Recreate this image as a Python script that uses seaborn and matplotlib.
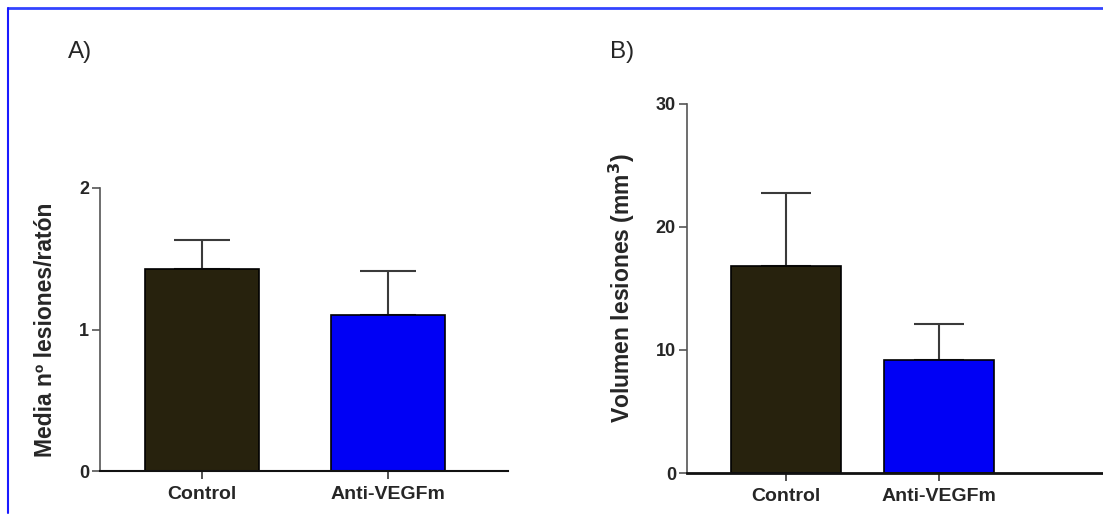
import matplotlib
matplotlib.use("Agg")
import matplotlib.pyplot as plt
import seaborn as sns
import pandas as pd
import numpy as np
from matplotlib.lines import Line2D

sns.set_theme(style="white")
plt.rcParams['font.family'] = ['Liberation Sans', 'DejaVu Sans']

categories = ["Control", "Anti-VEGFm"]
lesiones_mean = [1.43, 1.10]
lesiones_sem = [0.20, 0.31]
volumen_mean = [16.8, 9.2]
volumen_sem = [6.0, 2.9]
bar_colors = ["#27220d", "#0000f5"]
yticks_a = [0, 1, 2]
yticks_b = [0, 10, 20, 30]

fig = plt.figure(figsize=(11.03, 5.16), dpi=100)
W, H = 1103, 516

def px_axes(x0, x1, ytop, ybot):
    return fig.add_axes([x0 / W, (H - ybot) / H, (x1 - x0) / W, (ybot - ytop) / H])

axA = px_axes(100, 508, 188, 471)
axB = px_axes(687, 1103, 104, 473)

def draw(ax, means, sems, width, xlim, ylim, yticks, ylabel, xaxis_lw, cap, label_x):
    df = pd.DataFrame({"cat": categories, "val": means})
    sns.barplot(data=df, x="cat", y="val", hue="cat", palette=bar_colors,
                width=width, edgecolor="black", linewidth=1.2, legend=False,
                saturation=1, errorbar=None, ax=ax, zorder=2)
    x = np.arange(len(categories))
    ax.errorbar(x, means, yerr=[np.zeros(len(sems)), sems], fmt="none",
                ecolor="#3a3a3a", elinewidth=1.5, capsize=cap, capthick=1.5, zorder=1)
    ax.set_xlim(*xlim)
    ax.set_ylim(*ylim)
    ax.set_yticks(yticks)
    ax.set_yticklabels([str(t) for t in yticks], fontweight="bold", fontsize=13)
    ax.set_xticks(x)
    ax.set_xticklabels(categories, fontweight="bold", fontsize=14)
    ax.set_xlabel("")
    ax.set_ylabel(ylabel, fontweight="bold", fontsize=16.5)
    ax.yaxis.set_label_coords(label_x, 0.5)
    for s in ["top", "right"]:
        ax.spines[s].set_visible(False)
    ax.spines["left"].set_color("#555555")
    ax.spines["left"].set_linewidth(1.2)
    ax.spines["bottom"].set_color("#111111")
    ax.spines["bottom"].set_linewidth(xaxis_lw)
    ax.tick_params(axis="y", direction="out", length=6, width=1.2, color="#555555", pad=2, left=True)
    ax.tick_params(axis="x", direction="out", length=6, width=1.2, color="#333333", pad=5, bottom=True)
    ax.set_facecolor("none")

draw(axA, lesiones_mean, lesiones_sem, 0.613, (-0.548, 1.645), (0, 2), yticks_a,
     "Media nº lesiones/ratón", 1.5, 20, -0.105)
draw(axB, volumen_mean, volumen_sem, 0.72, (-0.647, 2.07), (0, 30), yticks_b,
     "Volumen lesiones (mm$^{\\mathbf{3}}$)", 2.0, 18, -0.12)

fig.text(68 / W, 1 - 52 / H, "A)", fontsize=17.5, va="center", ha="left")
fig.text(610 / W, 1 - 52 / H, "B)", fontsize=17.5, va="center", ha="left")

# blue frame (top and left edges)
fig.add_artist(Line2D([8 / W, 1.0], [1 - 8 / H, 1 - 8 / H], transform=fig.transFigure,
                      color="#3344ff", lw=2))
fig.add_artist(Line2D([8 / W, 8 / W], [1 - 8 / H, 0.005], transform=fig.transFigure,
                      color="#1a1aff", lw=1.5))

fig.savefig("out.png", dpi=100)
